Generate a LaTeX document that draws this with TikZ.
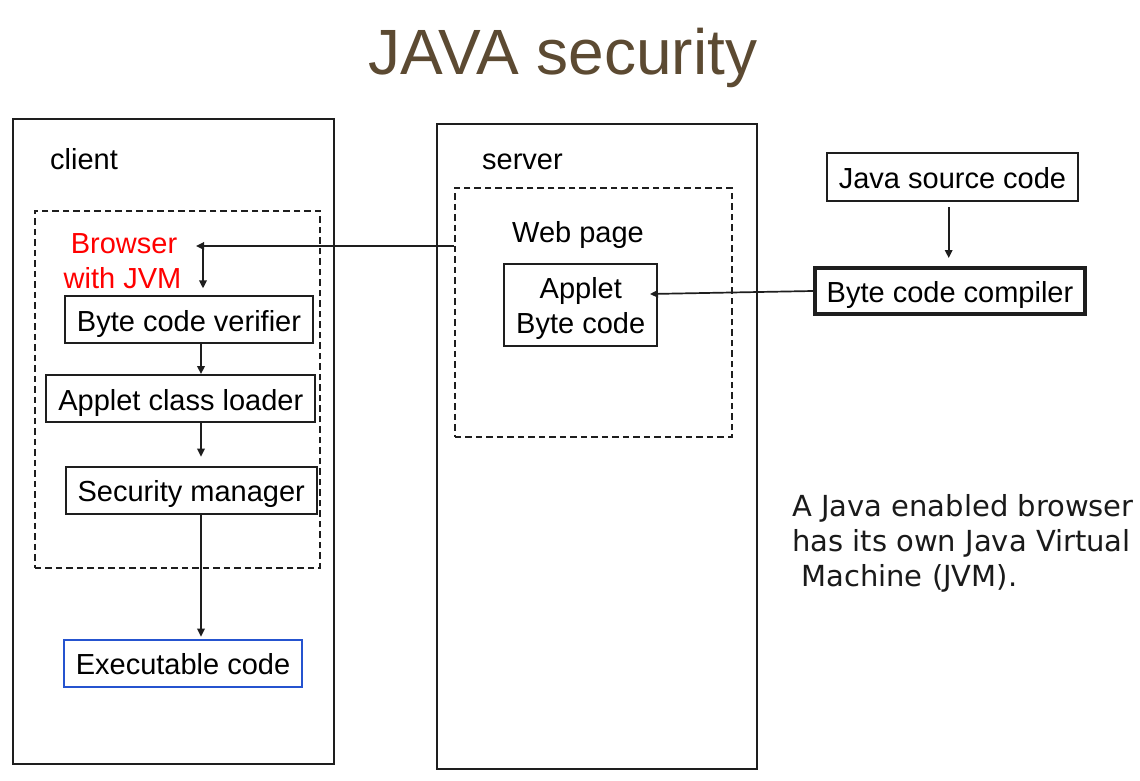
\documentclass[tikz,border=0pt]{standalone}
\usepackage{fontspec}
\setmainfont{Liberation Sans}
\newfontfamily\djv{DejaVu Sans}
\usetikzlibrary{arrows.meta}
\definecolor{titlebrown}{HTML}{5C4A32}
\definecolor{exblue}{HTML}{2553CF}
\definecolor{ln}{HTML}{1E1E1E}
\definecolor{notecol}{HTML}{1A1A1A}
\begin{document}
\begin{tikzpicture}[x=1pt,y=-1pt,
  every node/.style={font=\fontsize{29}{35}\selectfont, inner sep=0pt},
  frame/.style={draw=ln, line width=1.9pt, anchor=north west},
  dashframe/.style={draw=ln, line width=1.7pt, dash pattern=on 6.5pt off 4pt, anchor=north west},
  boxnode/.style={draw=ln, line width=1.9pt, text height=25pt, text depth=2pt},
  lbl/.style={anchor=base west},
  note/.style={anchor=base west, text=notecol, font=\djv\fontsize{29}{35}\selectfont},
  arr/.style={draw=ln, line width=1.7pt, -{Triangle[length=8pt,width=7.5pt]}}]
\useasboundingbox (0,0) rectangle (1140,781);
\fill[white] (0,0) rectangle (1140,781);

% title
\node[anchor=base west, text=titlebrown, font=\fontsize{64}{72}\selectfont] (title) at (368,75) {JAVA security};

% frames
\node[frame, minimum width=321pt, minimum height=645pt] (client) at (12,118) {};
\node[frame, minimum width=320pt, minimum height=645pt] (server) at (436,123) {};
\node[dashframe, minimum width=285pt, minimum height=357pt] (clidash) at (34,210) {};
\node[dashframe, minimum width=277pt, minimum height=249pt] (srvdash) at (454,187) {};

% labels
\node[lbl] (clientlbl) at (50,169) {client};
\node[lbl] (serverlbl) at (482,169) {server};
\node[lbl] (webpage) at (512,242.3) {Web page};
\node[anchor=base, text=red] (browser1) at (124,253) {Browser};
\node[anchor=base, text=red] (browser2) at (122.5,288) {with JVM};

% client boxes
\node[boxnode, minimum width=248.3pt, minimum height=47pt] (verifier) at (189,319.8) {Byte code verifier};
\node[boxnode, minimum width=269pt, minimum height=47pt] (loader) at (180.8,398.5) {Applet class loader};
\node[boxnode, minimum width=251pt, minimum height=47.3pt] (security) at (191.2,490.3) {Security manager};
\node[boxnode, draw=exblue, minimum width=238.6pt, minimum height=47.3pt] (exec) at (183,663.3) {Executable code};

% server / compile boxes
\node[draw=ln, line width=1.9pt, minimum width=153pt, minimum height=81.7pt] (applet) at (580.8,305.2) {};
\node[anchor=base] (applet1) at (580.8,298.3) {Applet};
\node[anchor=base] (applet2) at (580.7,333.3) {Byte code};
\node[boxnode, minimum width=251.6pt, minimum height=47.7pt] (source) at (952.5,177.2) {Java source code};
\node[boxnode, line width=4pt, minimum width=270pt, minimum height=46pt] (compiler) at (950,291) {Byte code compiler};

% note
\node[note] (note1) at (792,516) {A Java enabled browser};
\node[note] (note2) at (792,551.7) {has its own Java Virtual};
\node[note] (note3) at (801.2,586.7) {Machine (JVM).};

% connector coordinates
\coordinate (bin) at (196,246);
\coordinate (bdown) at (203,246);
\coordinate (ax) at (201,0);
\coordinate (sx) at (948.7,0);
\coordinate (appin) at (650,294);

% connectors
\draw[arr] (srvdash.west |- bin) -- (bin);
\draw[arr, shorten >=7pt] (bdown) -- (verifier.north -| bdown);
\draw[arr] (verifier.south -| ax) -- (loader.north -| ax);
\draw[arr, shorten >=9pt] (loader.south -| ax) -- (security.north -| ax);
\draw[arr, shorten >=2pt] (security.south -| ax) -- (exec.north -| ax);
\draw[arr, shorten <=5pt, shorten >=8pt] (source.south -| sx) -- (compiler.north -| sx);
\draw[arr] (compiler.west) -- (appin);
\end{tikzpicture}
\end{document}
